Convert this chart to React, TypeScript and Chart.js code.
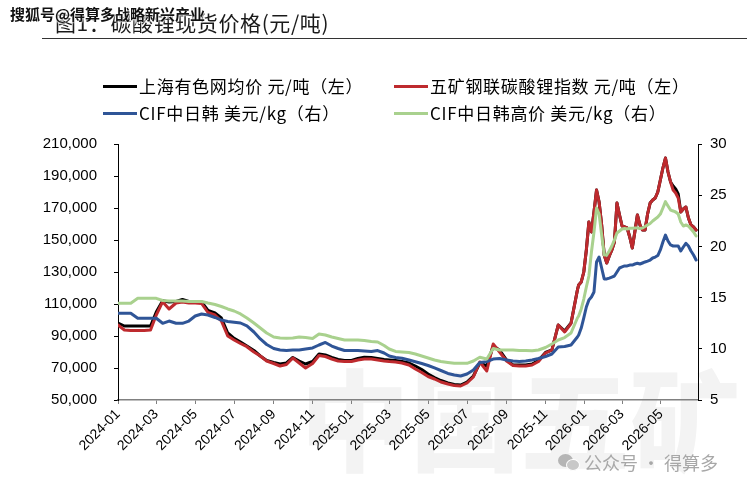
import React, { useEffect, useRef } from "react";
import { Chart, registerables } from "chart.js";

Chart.register(...registerables);

// ---------- data ----------
const dates: string[] = [
  "2024-01-01", "2024-01-11", "2024-01-21", "2024-02-01", "2024-02-11", "2024-02-21",
  "2024-03-01", "2024-03-11", "2024-03-21", "2024-04-01", "2024-04-11", "2024-04-21",
  "2024-05-01", "2024-05-11", "2024-05-21", "2024-06-01", "2024-06-11", "2024-06-21",
  "2024-07-01", "2024-07-11", "2024-07-21", "2024-08-01", "2024-08-11", "2024-08-21",
  "2024-09-01", "2024-09-11", "2024-09-21", "2024-10-01", "2024-10-11", "2024-10-21",
  "2024-11-01", "2024-11-11", "2024-11-21", "2024-12-01", "2024-12-11", "2024-12-21",
  "2025-01-01", "2025-01-11", "2025-01-21", "2025-02-01", "2025-02-11", "2025-02-21",
  "2025-03-01", "2025-03-11", "2025-03-21", "2025-04-01", "2025-04-11", "2025-04-21",
  "2025-05-01", "2025-05-11", "2025-05-21", "2025-06-01", "2025-06-11", "2025-06-21",
  "2025-07-01", "2025-07-11", "2025-07-21", "2025-08-01", "2025-08-11", "2025-08-21",
  "2025-09-01", "2025-09-11", "2025-09-21", "2025-10-01", "2025-10-11", "2025-10-21",
  "2025-11-01", "2025-11-11", "2025-11-21", "2025-12-01", "2025-12-11", "2025-12-21",
  "2025-12-23", "2025-12-27", "2025-12-31",
  "2026-01-04", "2026-01-08", "2026-01-12", "2026-01-16", "2026-01-20", "2026-01-24", "2026-01-28",
  "2026-02-01", "2026-02-05", "2026-02-09", "2026-02-13", "2026-02-17", "2026-02-21", "2026-02-25",
  "2026-03-01", "2026-03-05", "2026-03-09", "2026-03-13", "2026-03-17", "2026-03-21", "2026-03-25", "2026-03-29",
  "2026-04-02", "2026-04-06", "2026-04-10", "2026-04-14", "2026-04-18", "2026-04-22", "2026-04-26", "2026-04-30",
  "2026-05-04", "2026-05-08", "2026-05-12", "2026-05-16", "2026-05-20", "2026-05-24", "2026-05-28",
  "2026-06-01", "2026-06-05", "2026-06-09", "2026-06-13", "2026-06-17", "2026-06-21", "2026-06-25",
];

// 上海有色网均价 元/吨（左）
const smmPrice: number[] = [
  98130, 96250, 96250, 96250, 96250, 96250, 105000, 112060, 111250, 111560, 112810, 111560,
  111560, 111250, 105940, 104380, 101250, 91880, 88560, 86250, 83750, 80940, 77500, 74690,
  73440, 72500, 73130, 76560, 74380, 72500, 74060, 78750, 78130, 76560, 75310, 74690,
  74690, 75940, 76690, 76560, 75940, 75310, 75000, 74690, 74060, 73130, 71250, 69060,
  66250, 64060, 62190, 60630, 59690, 59380, 61250, 65000, 73130, 71250, 83750, 81250,
  75000, 71880, 71880, 71880, 72500, 74690, 79690, 81250, 96880, 93130, 98130, 118750,
  121880, 123750, 130000, 143750, 161250, 155000, 167500, 181250, 173750, 159380,
  140630, 135630, 140000, 143750, 148750, 173130, 165630, 158750, 158130, 157500,
  151880, 145000, 155000, 165630, 159380, 156250, 156250, 166250, 173130, 175000,
  176250, 180000, 187500, 195000, 201250, 192500, 186250, 183750, 181880, 178750,
  167500, 169380, 170630, 163750, 159380, 158130, 156250,
];

// 五矿钢联碳酸锂指数 元/吨（左）
const minmetalsIndex: number[] = [
  96880, 93750, 93440, 93440, 93440, 93750, 103130, 111440, 106880, 110630, 111250, 110630,
  110630, 110310, 104690, 103130, 99380, 90000, 87500, 85310, 83310, 80000, 77500, 74380,
  72810, 71250, 72190, 76250, 73130, 70000, 72810, 77810, 77190, 75630, 74380, 74060,
  74060, 75000, 75630, 75630, 75000, 74380, 74060, 73750, 73130, 71880, 69380, 67190,
  64690, 63130, 61250, 60000, 59060, 58750, 60630, 64380, 73750, 68130, 85000, 80000,
  74380, 71560, 71250, 71250, 71880, 74060, 79380, 81250, 96880, 92500, 97810, 118750,
  121880, 123750, 130000, 143750, 161250, 155000, 167500, 181250, 173750, 159380,
  140630, 135630, 140000, 143750, 148750, 173130, 165630, 158750, 158130, 157500,
  151880, 145000, 155000, 165630, 159380, 156250, 156250, 166250, 173130, 175000,
  176250, 180000, 187500, 195000, 201250, 192500, 186250, 181250, 179380, 176250,
  167500, 169380, 170630, 163750, 159380, 158130, 156250,
];

// CIF中日韩 美元/kg（右）
const cifJapanKorea: number[] = [
  13.47, 13.47, 13.47, 12.98, 12.98, 12.98, 12.98, 12.49, 12.71, 12.49, 12.49, 12.71,
  13.2, 13.4, 13.3, 13.06, 12.81, 12.67, 12.59, 12.52, 12.23, 11.64, 10.96, 10.42,
  10.03, 9.88, 9.83, 9.88, 9.88, 9.98, 10.08, 10.37, 10.62, 10.27, 10.03, 9.83,
  9.83, 9.83, 9.79, 9.74, 9.83, 9.59, 9.3, 9.15, 9.07, 8.91, 8.74, 8.56,
  8.37, 8.13, 7.88, 7.59, 7.44, 7.34, 7.54, 7.93, 8.66, 8.74, 9.0, 9.05,
  8.91, 8.81, 8.76, 8.81, 8.91, 9.05, 9.25, 9.49, 10.18, 10.22, 10.37, 11.15,
  11.35, 12.03, 13.01, 14.08, 14.77, 15.06, 15.55, 18.48, 18.96, 17.89,
  16.82, 16.82, 16.91, 17.01, 17.11, 17.5, 17.89, 17.99, 18.09, 18.09,
  18.18, 18.18, 18.28, 18.35, 18.28, 18.38, 18.48, 18.57, 18.67, 18.87,
  18.96, 19.11, 19.65, 20.43, 21.11, 20.53, 20.14, 20.04, 20.04, 20.04,
  19.55, 19.94, 20.3, 20.04, 19.55, 19.16, 18.67,
];

// CIF中日韩高价 美元/kg（右）
const cifJapanKoreaHigh: number[] = [
  14.44, 14.44, 14.44, 14.93, 14.93, 14.93, 14.93, 14.72, 14.67, 14.67, 14.67, 14.62,
  14.62, 14.62, 14.47, 14.33, 14.13, 13.89, 13.69, 13.4, 13.01, 12.52, 12.03, 11.54,
  11.15, 11.05, 11.03, 11.05, 11.15, 11.1, 11.01, 11.45, 11.35, 11.15, 11.01, 10.86,
  10.86, 10.86, 10.81, 10.71, 10.66, 10.32, 9.98, 9.74, 9.69, 9.64, 9.49, 9.3,
  9.1, 8.91, 8.76, 8.66, 8.58, 8.58, 8.58, 8.81, 9.17, 9.0, 10.03, 9.88,
  9.88, 9.88, 9.83, 9.83, 9.81, 9.88, 10.13, 10.47, 10.86, 11.1, 11.54, 13.01,
  13.2, 13.89, 14.86, 16.04, 17.11, 19.45, 21.41, 23.75, 23.16, 21.11,
  19.16, 19.16, 19.55, 20.04, 20.63, 21.31, 21.5, 21.7, 21.75, 21.7,
  21.77, 21.77, 21.8, 21.8, 21.75, 21.8, 21.94, 22.09, 22.24, 22.48,
  22.68, 22.87, 23.16, 23.75, 24.37, 23.95, 23.55, 23.46, 23.36, 23.16,
  22.38, 21.99, 22.09, 21.99, 21.7, 21.41, 21.02,
];

const xTickLabels: string[] = [
  "2024-01", "2024-03", "2024-05", "2024-07", "2024-09", "2024-11",
  "2025-01", "2025-03", "2025-05", "2025-07", "2025-09", "2025-11",
  "2026-01", "2026-03", "2026-05",
];
const xRange: string[] = ["2024-01-01", "2026-06-28"];
const leftAxis = { min: 50000, max: 210000, step: 20000 };
const rightAxis = { min: 5, max: 30, step: 5 };

const seriesNames: string[] = [
  "上海有色网均价 元/吨（左）",
  "五矿钢联碳酸锂指数 元/吨（左）",
  "CIF中日韩 美元/kg（右）",
  "CIF中日韩高价 美元/kg（右）",
];
const seriesColors: string[] = ["#000000", "#BE2A2E", "#2F5597", "#A9D18E"];

// ---------- helpers ----------
const ORIGIN = Date.UTC(2024, 0, 1);
function dayIndex(s: string): number {
  const [y, m, d] = s.split("-").map(Number);
  return Math.round((Date.UTC(y, m - 1, d || 1) - ORIGIN) / 86400000);
}
const xTickValues = xTickLabels.map((l) => dayIndex(l + "-01"));
const xLabelMap = new Map<number, string>(xTickValues.map((v, i) => [v, xTickLabels[i]]));

const AXIS_FONT = { family: "'Liberation Sans', Arial, sans-serif", size: 15 };
const CJK = "'Noto Sans CJK SC', 'Noto Sans', sans-serif";

export default function App() {
  const canvasRef = useRef<HTMLCanvasElement | null>(null);

  useEffect(() => {
    if (!canvasRef.current) return;
    const toPts = (vals: number[]) => dates.map((d, i) => ({ x: dayIndex(d), y: vals[i] }));
    const chart = new Chart(canvasRef.current, {
      type: "line",
      data: {
        datasets: [
          { label: seriesNames[0], data: toPts(smmPrice), borderColor: seriesColors[0], yAxisID: "yL", order: 4 },
          { label: seriesNames[1], data: toPts(minmetalsIndex), borderColor: seriesColors[1], yAxisID: "yL", order: 3 },
          { label: seriesNames[2], data: toPts(cifJapanKorea), borderColor: seriesColors[2], yAxisID: "yR", order: 2 },
          { label: seriesNames[3], data: toPts(cifJapanKoreaHigh), borderColor: seriesColors[3], yAxisID: "yR", order: 1 },
        ],
      },
      options: {
        responsive: false,
        animation: false,
        devicePixelRatio: 1,
        layout: { padding: { top: 144, left: 0, right: 0, bottom: 0 } },
        elements: {
          point: { radius: 0 },
          line: { borderWidth: 3, tension: 0, borderJoinStyle: "round", borderCapStyle: "round" },
        },
        plugins: { legend: { display: false }, tooltip: { enabled: false }, title: { display: false } },
        scales: {
          x: {
            type: "linear",
            position: "bottom",
            min: dayIndex(xRange[0]),
            max: dayIndex(xRange[1]),
            afterBuildTicks: (s: any) => {
              s.ticks = xTickValues.map((v) => ({ value: v }));
            },
            afterFit: (s: any) => {
              s.height = 92;
            },
            ticks: {
              autoSkip: false,
              minRotation: 45,
              maxRotation: 45,
              padding: 2,
              color: "#000",
              font: { family: AXIS_FONT.family, size: 14 },
              callback: (v: any) => xLabelMap.get(Number(v)) ?? "",
            },
            grid: { display: true, drawOnChartArea: false, drawTicks: true, tickLength: 4, color: "#808080" },
            border: { display: true, color: "#808080", width: 1.5 },
          },
          yL: {
            type: "linear",
            position: "left",
            min: leftAxis.min,
            max: leftAxis.max,
            afterFit: (s: any) => {
              s.width = 118;
            },
            ticks: {
              stepSize: leftAxis.step,
              padding: 17,
              color: "#000",
              font: AXIS_FONT,
              callback: (v: any) => Number(v).toLocaleString("en-US"),
            },
            grid: { display: true, drawOnChartArea: false, drawTicks: true, tickLength: 4, color: "#000" },
            border: { display: true, color: "#000", width: 1 },
          },
          yR: {
            type: "linear",
            position: "right",
            min: rightAxis.min,
            max: rightAxis.max,
            afterFit: (s: any) => {
              s.width = 49;
            },
            ticks: {
              stepSize: rightAxis.step,
              padding: 8,
              color: "#000",
              font: AXIS_FONT,
            },
            grid: { display: true, drawOnChartArea: false, drawTicks: true, tickLength: 4, color: "#000" },
            border: { display: true, color: "#000", width: 1 },
          },
        },
      },
    } as any);
    return () => chart.destroy();
  }, []);

  const abs = (o: React.CSSProperties): React.CSSProperties => ({ position: "absolute", ...o });
  const legendItems = [
    { left: 103, top: 86 },
    { left: 394, top: 86 },
    { left: 103, top: 113 },
    { left: 394, top: 113 },
  ];

  return (
    <div style={abs({ left: 0, top: 0, width: 747, height: 492, background: "#fff", overflow: "hidden" })}>
      {/* faint background watermark */}
      <div
        style={abs({
          left: 300,
          top: 350,
          fontFamily: CJK,
          fontSize: 110,
          fontWeight: 900,
          lineHeight: "130px",
          color: "#f3f3f3",
          whiteSpace: "nowrap",
        })}
      >
        中国五矿
      </div>
      <canvas ref={canvasRef} width={747} height={492} style={abs({ left: 0, top: 0, width: 747, height: 492 })} />
      {/* title */}
      <div
        style={abs({
          left: 55,
          top: 8,
          fontFamily: CJK,
          fontSize: 21,
          letterSpacing: "0.6px",
          lineHeight: "28px",
          color: "#1a1a1a",
          whiteSpace: "nowrap",
        })}
      >
        图1：碳酸锂现货价格(元/吨)
      </div>
      <div style={abs({ left: 42, top: 38, width: 705, height: 1, background: "#333" })} />
      <div
        style={abs({
          left: 10,
          top: 5,
          fontFamily: CJK,
          fontSize: 15,
          fontWeight: 700,
          lineHeight: "18px",
          color: "#111",
          whiteSpace: "nowrap",
          textShadow: "0 0 2px #fff, 0 0 2px #fff, 0 0 3px #fff",
        })}
      >
        搜狐号@得算多战略新兴产业
      </div>
      {/* legend */}
      {legendItems.map((p, i) => (
        <React.Fragment key={i}>
          <div style={abs({ left: p.left, top: p.top - 1, width: 34, height: 3, background: seriesColors[i] })} />
          <div
            style={abs({
              left: p.left + 36,
              top: p.top - 12,
              fontFamily: CJK,
              fontSize: 17,
              letterSpacing: "0.7px",
              lineHeight: "24px",
              color: "#000",
              whiteSpace: "nowrap",
            })}
          >
            {seriesNames[i]}
          </div>
        </React.Fragment>
      ))}
      {/* bottom-right mark */}
      <div style={abs({ left: 558, top: 454, width: 15, height: 13, borderRadius: "50%", background: "#b5b5b5" })} />
      <div style={abs({ left: 566, top: 459, width: 12, height: 10, borderRadius: "50%", background: "#c8c8c8", border: "1px solid #fff" })} />
      <div style={abs({ left: 584, top: 450, fontFamily: CJK, fontSize: 18, lineHeight: "24px", color: "#a8a8a8", whiteSpace: "nowrap" })}>
        公众号 · 得算多
      </div>
    </div>
  );
}
